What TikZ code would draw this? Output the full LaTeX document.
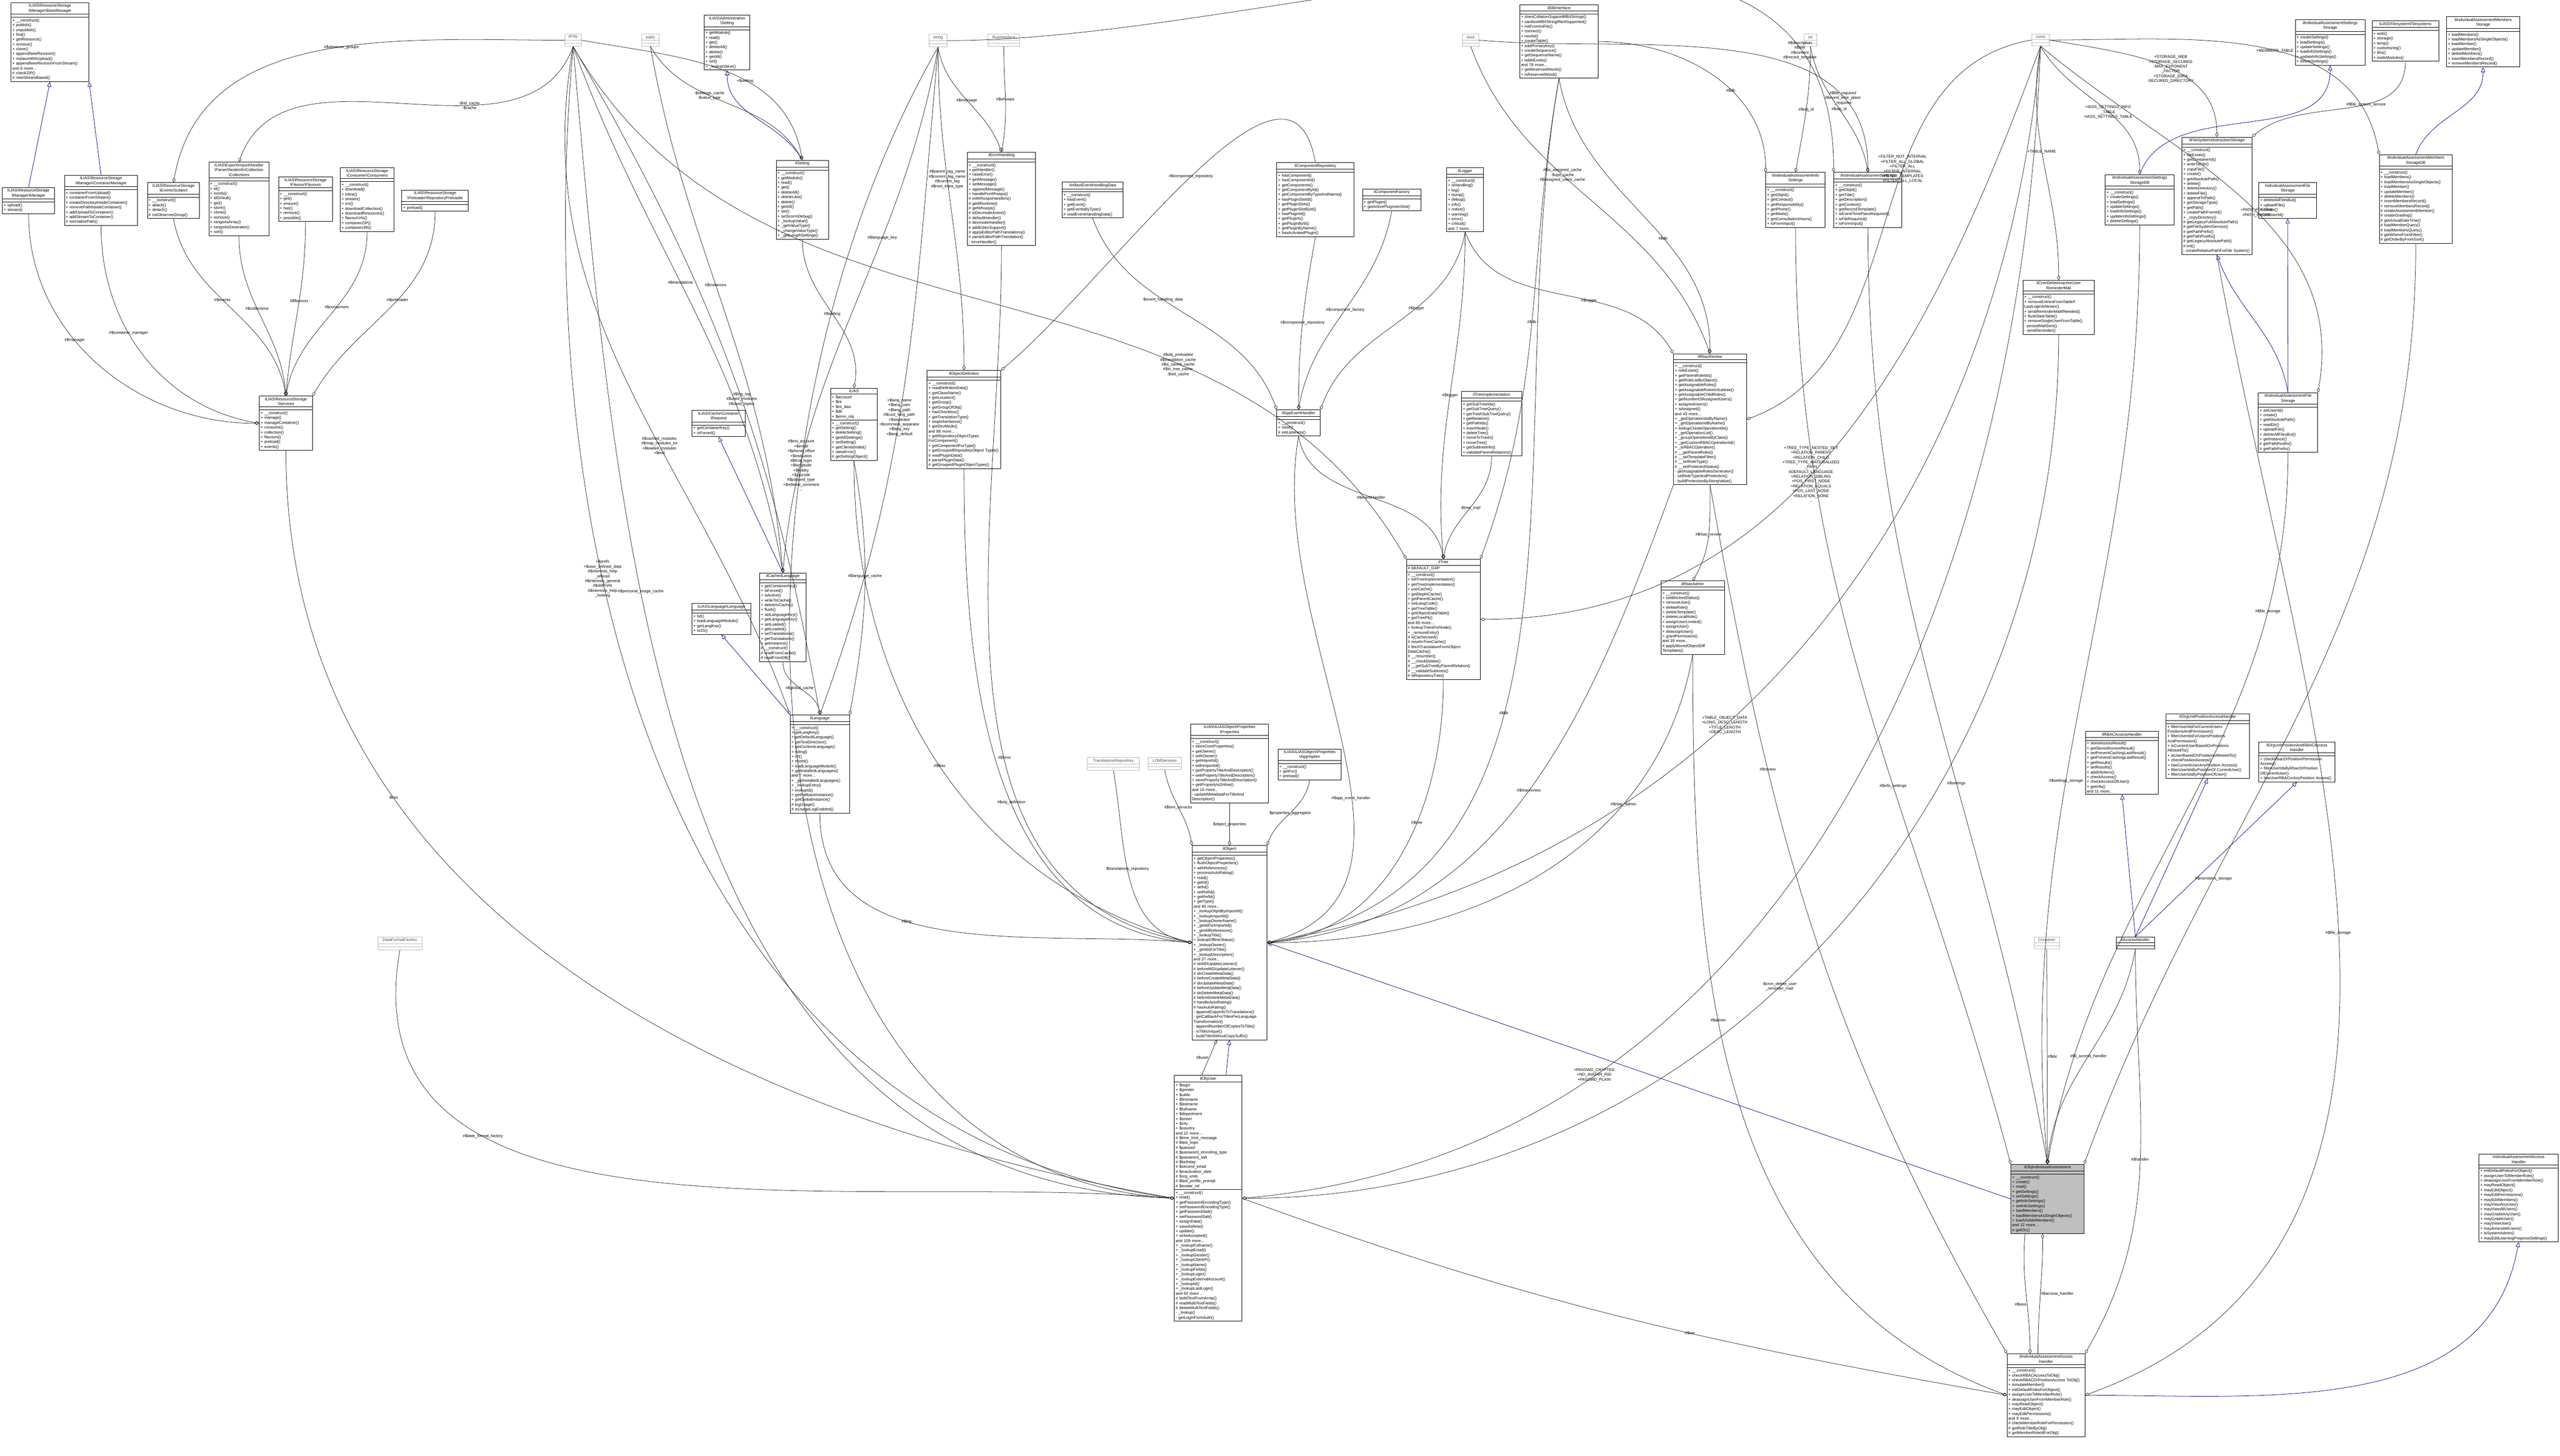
\documentclass[tikz,border=0pt]{standalone}
\usepackage{fontspec}
\setmainfont{Liberation Sans}
\usetikzlibrary{shapes.multipart,arrows.meta}
\newcommand{\bs}{\textbackslash{}}
\newcommand{\cls}[7][]{\node[cls,text width=#4pt,#1] (#2) at (#3) {\centering #5\par\nodepart{two}\raggedright #6\par\nodepart{three}\raggedright #7\par};}
\newcommand{\tnode}[4]{\node[cls,draw=gray!55,text width=#3pt] (#1) at (#2) {\centering\color{gray!60!black}#4\par\nodepart{two}\mbox{}\par\nodepart{three}\mbox{}\par};}
\tikzset{
 cls/.style={draw=black,line width=0.3pt,rectangle split,rectangle split parts=3,anchor=north west,
   inner xsep=0.8pt,inner ysep=0.8pt,align=left,font=\fontsize{2.5}{3.0}\selectfont,fill=white},
 agg/.style={draw=black!85,line width=0.25pt,-{Diamond[open,length=3pt,width=2pt,line width=0.25pt]}},
 inh/.style={draw=blue!55!black,line width=0.25pt,-{Triangle[open,length=3pt,width=2.6pt,line width=0.25pt]}},
 lbl/.style={font=\fontsize{2.5}{3.0}\selectfont,align=center,inner sep=0.3pt}
}
\begin{document}
\begin{tikzpicture}[x=1pt,y=-1pt]
\useasboundingbox[fill=white] (0,0) rectangle (1600,909.8);
% ---------- classes ----------
\cls{bm}{6.8,1.5}{47}{ILIAS\bs ResourceStorage\\\bs Manager\bs BaseManager}{\mbox{}}{+ \_\_construct()\\+ publish()\\+ unpublish()\\+ find()\\+ getResource()\\+ remove()\\+ clone()\\+ appendNewRevision()\\+ replaceWithUpload()\\+ appendNewRevisionFromStream()\\and 6 more...\\\# checkZIP()\\\# newStreamBased()}
\cls{mgr}{1.4,117}{31}{ILIAS\bs ResourceStorage\\\bs Manager\bs Manager}{\mbox{}}{+ upload()\\+ stream()}
\cls{cm}{40.2,109.4}{44}{ILIAS\bs ResourceStorage\\\bs Manager\bs ContainerManager}{\mbox{}}{+ containerFromUpload()\\+ containerFromStream()\\+ createDirectoryInsideContainer()\\+ removePathInsideContainer()\\+ addUploadToContainer()\\+ addStreamToContainer()\\\# normalizePath()}
\cls{subj}{92,114}{31}{ILIAS\bs ResourceStorage\\\bs Events\bs Subject}{\mbox{}}{+ \_\_construct()\\+ attach()\\+ detach()\\\# initObserverGroup()}
\cls{coll}{130.4,101.2}{36}{ILIAS\bs Export\bs ImportHandler\\\bs Parser\bs NodeInfo\bs Collection\\\bs Collections}{\mbox{}}{+ \_\_construct()\\+ id()\\+ exists()\\+ idOrNull()\\+ get()\\+ store()\\+ clone()\\+ remove()\\+ rangeAsArray()\\+ rangeAsGenerator()\\+ sort()}
\cls{flav}{174,110.5}{32}{ILIAS\bs ResourceStorage\\\bs Flavour\bs Flavours}{\mbox{}}{+ \_\_construct()\\+ get()\\+ ensure()\\+ has()\\+ remove()\\+ possible()}
\cls{cons}{212.5,104.7}{32}{ILIAS\bs ResourceStorage\\\bs Consumer\bs Consumers}{\mbox{}}{+ \_\_construct()\\+ download()\\+ inline()\\+ stream()\\+ src()\\+ downloadCollection()\\+ downloadResources()\\+ flavourUrls()\\+ containerZIP()\\+ containerURI()}
\cls{prel}{251,118.6}{40}{ILIAS\bs ResourceStorage\\\bs Preloader\bs RepositoryPreloader}{\mbox{}}{+ preload()}
\cls{serv}{162,247.5}{31.5}{ILIAS\bs ResourceStorage\\\bs Services}{\mbox{}}{+ \_\_construct()\\+ manage()\\+ manageContainer()\\+ consume()\\+ collection()\\+ flavours()\\+ preload()\\+ events()}
\tnode{tarray}{353,21.2}{8.5}{array}
\tnode{tstatic}{400.8,21.2}{9.5}{static}
\cls{adset}{440,9.3}{27}{ILIAS\bs Administration\\\bs Setting}{\mbox{}}{+ getModule()\\+ read()\\+ get()\\+ deleteAll()\\+ delete()\\+ getAll()\\+ set()\\+ \_lookupValue()}
\cls{ilset}{485,100}{31}{ilSetting}{\mbox{}}{+ \_\_construct()\\+ getModule()\\+ read()\\+ get()\\+ deleteAll()\\+ deleteLike()\\+ delete()\\+ getAll()\\+ set()\\+ setScormDebug()\\+ \_lookupValue()\\+ \_getValueType()\\+ \_changeValueType()\\+ \_getLengthSettings()}
\cls{ilias}{519,242.5}{27.5}{ILIAS}{+ \$account\\+ \$ini\\+ \$ini\_ilias\\+ \$db\\+ \$error\_obj}{+ \_\_construct()\\+ getSetting()\\+ deleteSetting()\\+ getAllSettings()\\+ setSetting()\\+ getClientIdValid()\\+ raiseError()\\\# getSettingObject()}
\cls{req}{432.4,256.4}{31.5}{ILIAS\bs Cache\bs Container\\\bs Request}{\mbox{}}{+ getContainerKey()\\+ isForced()}
\cls{cachl}{474.6,358}{27.5}{ilCachedLanguage}{\mbox{}}{+ getContainerKey()\\+ isForced()\\+ isActive()\\+ writeToCache()\\+ deleteInCache()\\+ flush()\\+ setLanguageKey()\\+ getLanguageKey()\\+ setLoaded()\\+ getLoaded()\\+ setTranslations()\\+ getTranslations()\\+ getInstance()\\\# \_\_construct()\\\# readFromCache()\\\# readFromDB()}
\cls{langif}{432.4,377}{35}{ILIAS\bs Language\bs Language}{\mbox{}}{+ txt()\\+ loadLanguageModule()\\+ getLangKey()\\+ toJS()}
\cls{lng}{493.7,446.7}{35.5}{ilLanguage}{\mbox{}}{+ \_\_construct()\\+ getLangKey()\\+ getDefaultLanguage()\\+ getTextDirection()\\+ getContentLanguage()\\+ txtlng()\\+ txt()\\+ exists()\\+ loadLanguageModule()\\+ getInstalledLanguages()\\and 7 more...\\+ \_getInstalledLanguages()\\+ \_lookupEntry()\\+ lookupId()\\+ getFallbackInstance()\\+ getGlobalInstance()\\\# logUsage()\\\# isUsageLogEnabled()}
\tnode{tdff}{236,585.5}{26}{DataFormatFactory}
\tnode{tstring}{580.6,21.2}{9.5}{string}
\tnode{trun}{617.4,21.2}{18}{RunInterface}
\tnode{tbool}{914,21.2}{8.5}{bool}
\cls{db}{949.7,2.9}{47.5}{ilDBInterface}{\mbox{}}{+ doesCollationSupportMB4Strings()\\+ sanitizeMB4StringIfNotSupported()\\+ initFromIniFile()\\+ connect()\\+ nextId()\\+ createTable()\\+ addPrimaryKey()\\+ createSequence()\\+ getSequenceName()\\+ tableExists()\\and 78 more...\\+ getReservedWords()\\+ isReservedWord()}
\cls{err}{604.5,95}{41}{ilErrorHandling}{\mbox{}}{+ \_\_construct()\\+ getHandler()\\+ raiseError()\\+ getMessage()\\+ setMessage()\\+ appendMessage()\\+ handlePreWhoops()\\\# initWhoopsHandlers()\\\# getIlRuntime()\\\# getWhoops()\\\# isDevmodeActive()\\\# defaultHandler()\\\# devmodeHandler()\\\# addEditorSupport()\\\# applyEditorPathTranslations()\\\# parseEditorPathTranslation()\\- errorHandler()}
\cls{aehd}{663.7,113.7}{36.5}{ArtifactEventHandlingData}{\mbox{}}{+ \_\_construct()\\+ hasEvent()\\+ getEvent()\\+ getEventsByType()\\\# readEventHandlingData()}
\cls{comprep}{797.9,101.5}{46.5}{ilComponentRepository}{\mbox{}}{+ hasComponent()\\+ hasComponentId()\\+ getComponents()\\+ getComponentById()\\+ getComponentByTypeAndName()\\+ hasPluginSlotId()\\+ getPluginSlots()\\+ getPluginSlotById()\\+ hasPluginId()\\+ getPlugins()\\+ getPluginById()\\+ getPluginByName()\\+ hasActivatedPlugin()}
\cls{compf}{851.4,118}{35}{ilComponentFactory}{\mbox{}}{+ getPlugin()\\+ getActivePluginsInSlot()}
\cls{logger}{904,104.7}{21.5}{ilLogger}{\mbox{}}{+ \_\_construct()\\+ isHandling()\\+ log()\\+ dump()\\+ debug()\\+ info()\\+ notice()\\+ warning()\\+ error()\\+ critical()\\and 7 more...}
\cls{objdef}{579.3,231.4}{44.5}{ilObjectDefinition}{\mbox{}}{+ \_\_construct()\\+ readDefinitionData()\\+ getClassName()\\+ getLocation()\\+ getGroup()\\+ getGroupOfObj()\\+ hasCheckbox()\\+ getTranslationType()\\+ stopInheritance()\\+ getDevMode()\\and 88 more...\\+ getRepositoryObjectTypes ForComponent()\\+ getComponentForType()\\+ getGroupedRepositoryObject Types()\\\# readPluginData()\\\# parsePluginData()\\\# getGroupedPluginObjectTypes()}
\cls{aeh}{797.9,256}{25.5}{ilAppEventHandler}{\mbox{}}{+ \_\_construct()\\+ raise()\\\# initListeners()}
\cls{timpl}{913.3,244.5}{36}{ilTreeImplementation}{\mbox{}}{+ getSubTreeIds()\\+ getSubTreeQuery()\\+ getTrashSubTreeQuery()\\+ getRelation()\\+ getPathIds()\\+ insertNode()\\+ deleteTree()\\+ moveToTrash()\\+ moveTree()\\+ getSubtreeInfo()\\+ validateParentRelations()}
\cls{tree}{878.9,349.4}{44.5}{ilTree}{\# DEFAULT\_GAP}{+ \_\_construct()\\+ initTreeImplementation()\\+ getTreeImplementation()\\+ useCache()\\+ getDepthCache()\\+ getParentCache()\\+ initLangCode()\\+ getTreeTable()\\+ getObjectDataTable()\\+ getTreePk()\\and 80 more...\\+ lookupTreesForNode()\\+ \_removeEntry()\\\# isCacheUsed()\\\# resetInTreeCache()\\\# fetchTranslationFromObject DataCache()\\\# \_\_renumber()\\\# \_\_checkDelete()\\\# \_\_getSubTreeByParentRelation()\\\# \_\_validateSubtrees()\\\# isRepositoryTree()}
\cls{rrev}{1045.8,221}{44}{ilRbacReview}{\mbox{}}{+ \_\_construct()\\+ roleExists()\\+ getParentRoleIds()\\+ getRoleListByObject()\\+ getAssignableRoles()\\+ getAssignableRolesInSubtree()\\+ getAssignableChildRoles()\\+ getNumberOfAssignedUsers()\\+ assignedUsers()\\+ isAssigned()\\and 43 more...\\+ \_getOperationIdsByName()\\+ \_getOperationIdByName()\\+ lookupCreateOperationIds()\\+ \_getOperationList()\\+ \_groupOperationsByClass()\\+ \_getCustomRBACOperationId()\\+ \_isRBACOperation()\\\# \_\_getParentRoles()\\\# \_\_setTemplateFilter()\\\# \_\_setRoleType()\\\# \_\_setProtectedStatus()\\- getAssignableRolesGenerator()\\- setRoleTypeAndProtection()\\- buildProtectionByStringValue()}
\cls{radm}{1038,363}{38}{ilRbacAdmin}{\mbox{}}{+ \_\_construct()\\+ setBlockedStatus()\\+ removeUser()\\+ deleteRole()\\+ deleteTemplate()\\+ deleteLocalRole()\\+ assignUserLimited()\\+ assignUser()\\+ deassignUser()\\+ grantPermission()\\and 18 more...\\\# applyMovedObjectDiff Templates()}
\cls{props}{744,452.4}{47}{ILIAS\bs ILIASObject\bs Properties\\\bs Properties}{\mbox{}}{+ \_\_construct()\\+ storeCoreProperties()\\+ getOwner()\\+ withOwner()\\+ getImportId()\\+ withImportId()\\+ getPropertyTitleAndDescription()\\+ withPropertyTitleAndDescription()\\+ storePropertyTitleAndDescription()\\+ getPropertyIsOnline()\\and 16 more...\\- updateMetadataForTitleAnd Description()}
\tnode{ttrans}{679.4,473.3}{31}{TranslationsRepository}
\tnode{tlom}{717.5,473.3}{19}{LOMServices}
\cls{aggr}{798.6,468}{38}{ILIAS\bs ILIASObject\bs Properties\\\bs Aggregator}{\mbox{}}{+ \_\_construct()\\+ getFor()\\+ preload()}
\cls{obj}{745,528.4}{45}{ilObject}{\mbox{}}{+ getObjectProperties()\\+ flushObjectProperties()\\+ withReferences()\\+ processAutoRating()\\+ read()\\+ getId()\\+ setId()\\+ setRefId()\\+ getRefId()\\+ getType()\\and 40 more...\\+ \_lookupObjIdByImportId()\\+ \_lookupImportId()\\+ \_lookupOwnerName()\\+ \_getIdForImportId()\\+ \_getAllReferences()\\+ \_lookupTitle()\\+ lookupOfflineStatus()\\+ \_lookupOwner()\\+ \_getIdsForTitle()\\+ \_lookupDescription()\\and 27 more...\\\# doMDUpdateListener()\\\# beforeMDUpdateListener()\\\# doCreateMetaData()\\\# beforeCreateMetaData()\\\# doUpdateMetaData()\\\# beforeUpdateMetaData()\\\# doDeleteMetaData()\\\# beforeDeleteMetaData()\\\# handleAutoRating()\\\# hasAutoRating()\\- appendCopyInfoToTranslations()\\- getCallbackForTitlesPerLanguage Transformation()\\- appendNumberOfCopiesToTitle()\\- isTitleUnique()\\- buildTitleWithoutCopySuffix()}
\cls{usr}{733.9,672}{40.5}{ilObjUser}{+ \$login\\+ \$gender\\+ \$utitle\\+ \$firstname\\+ \$lastname\\+ \$fullname\\+ \$department\\+ \$street\\+ \$city\\+ \$country\\and 12 more...\\\# \$time\_limit\_message\\\# \$last\_login\\\# \$passwd\\\# \$password\_encoding\_type\\\# \$password\_salt\\\# \$birthday\\\# \$second\_email\\\# \$inactivation\_date\\\# \$org\_units\\\# \$last\_profile\_prompt\\\# \$avatar\_rid}{+ \_\_construct()\\+ read()\\+ getPasswordEncodingType()\\+ setPasswordEncodingType()\\+ getPasswordSalt()\\+ setPasswordSalt()\\+ assignData()\\+ saveAsNew()\\+ update()\\+ writeAccepted()\\and 109 more...\\+ \_lookupFullname()\\+ \_lookupEmail()\\+ \_lookupGender()\\+ \_lookupClientIP()\\+ \_lookupName()\\+ \_lookupFields()\\+ \_lookupLogin()\\+ \_lookupExternalAccount()\\+ \_lookupId()\\+ \_lookupLastLogin()\\and 62 more...\\\# buildTextFromArray()\\\# readMultiTextFields()\\\# deleteMultiTextFields()\\- \_lookup()\\- getLoginFromAuth()}
\tnode{tint}{1127.3,21.2}{6.5}{int}
\tnode{tconst}{1269.6,21.2}{9.5}{const}
\cls{ssto}{1434.4,12.2}{42}{ilIndividualAssessmentSettings\\Storage}{\mbox{}}{+ createSettings()\\+ loadSettings()\\+ updateSettings()\\+ loadInfoSettings()\\+ updateInfoSettings()\\+ deleteSettings()}
\cls{fss}{1482.4,12.8}{40}{ILIAS\bs Filesystem\bs Filesystems}{\mbox{}}{+ web()\\+ storage()\\+ temp()\\+ customizing()\\+ libs()\\+ nodeModules()}
\cls{msto}{1529,10.4}{44}{ilIndividualAssessmentMembers\\Storage}{\mbox{}}{+ loadMembers()\\+ loadMembersAsSingleObjects()\\+ loadMember()\\+ updateMember()\\+ deleteMembers()\\+ insertMembersRecord()\\+ removeMembersRecord()}
\cls{info}{1103.5,107.6}{35.5}{ilIndividualAssessmentInfo\\Settings}{\mbox{}}{+ \_\_construct()\\+ getObjId()\\+ getContact()\\+ getResponsibility()\\+ getPhone()\\+ getMails()\\+ getConsultationHours()\\+ toFormInput()}
\cls{sett}{1146,107.6}{41}{ilIndividualAssessmentSettings}{\mbox{}}{+ \_\_construct()\\+ getObjId()\\+ getTitle()\\+ getDescription()\\+ getContent()\\+ getRecordTemplate()\\+ isEventTimePlaceRequired()\\+ isFileRequired()\\+ toFormInput()}
\cls{ssdb}{1315.6,109}{41.5}{ilIndividualAssessmentSettings\\StorageDB}{\mbox{}}{+ \_\_construct()\\+ createSettings()\\+ loadSettings()\\+ updateSettings()\\+ loadInfoSettings()\\+ updateInfoSettings()\\+ deleteSettings()}
\cls{fsas}{1363.6,85.6}{42}{ilFileSystemAbstractionStorage}{\mbox{}}{+ \_\_construct()\\+ fileExists()\\+ getContainerId()\\+ writeToFile()\\+ copyFile()\\+ create()\\+ getAbsolutePath()\\+ delete()\\+ deleteDirectory()\\+ deleteFile()\\+ appendToPath()\\+ getStorageType()\\+ getPath()\\+ createPathFromId()\\+ \_copyDirectory()\\\# getLegacyFullAbsolutePath()\\\# getFileSystemService()\\\# getPathPrefix()\\\# getPathPostfix()\\\# getLegacyAbsolutePath()\\\# init()\\- createRelativePathForFile System()}
\cls{fsti}{1411.6,114}{34.5}{IndividualAssessmentFile\\Storage}{\mbox{}}{+ deleteAllFilesBut()\\+ uploadFile()\\+ create()\\+ setUserId()}
\cls{msdb}{1486.9,96.6}{44}{ilIndividualAssessmentMembers\\StorageDB}{\mbox{}}{+ \_\_construct()\\+ loadMembers()\\+ loadMembersAsSingleObjects()\\+ loadMember()\\+ updateMember()\\+ deleteMembers()\\+ insertMembersRecord()\\+ removeMembersRecord()\\\# createAssessmentMember()\\\# createGrading()\\\# getActualDateTime()\\\# loadMemberQuery()\\\# loadMembersQuery()\\\# getWhereFromFilter()\\\# getOrderByFromSort()}
\cls{cron}{1264.2,175}{43}{ilCronDeleteInactiveUser\\ReminderMail}{\mbox{}}{+ \_\_construct()\\+ removeEntriesFromTableIf LastLoginIsNewer()\\+ sendReminderMailIfNeeded()\\+ flushDataTable()\\+ removeSingleUserFromTable()\\- persistMailSent()\\- sendReminder()}
\cls{fsc}{1411.3,245.3}{35.5}{ilIndividualAssessmentFile\\Storage}{\mbox{}}{+ setUserId()\\+ create()\\+ getAbsolutePath()\\+ readDir()\\+ uploadFile()\\+ deleteAllFilesBut()\\+ getInstance()\\\# getPathPostfix()\\\# getPathPrefix()}
\cls{rbach}{1303.3,457}{44}{ilRBACAccessHandler}{\mbox{}}{+ storeAccessResult()\\+ getStoredAccessResult()\\+ setPreventCachingLastResult()\\+ getPreventCachingLastResult()\\+ getResults()\\+ setResults()\\+ addInfoItem()\\+ checkAccess()\\+ checkAccessOfUser()\\+ getInfo()\\and 11 more...}
\cls{ouph}{1353.7,446}{50.5}{ilOrgUnitPositionAccessHandler}{\mbox{}}{+ filterUserIdsForCurrentUsers PositionsAndPermission()\\+ filterUserIdsForUsersPositions AndPermission()\\+ isCurrentUserBasedOnPositions AllowedTo()\\+ isUserBasedOnPositionsAllowedTo()\\+ checkPositionAccess()\\+ hasCurrentUserAnyPosition Access()\\+ filterUserIdsByPositionOf CurrentUser()\\+ filterUserIdsByPositionOfUser()}
\cls{ourb}{1411.6,463.7}{46}{ilOrgUnitPositionAndRBACAccess\\Handler}{\mbox{}}{+ checkRbacOrPositionPermission Access()\\+ filterUserIdsByRbacOrPosition OfCurrentUser()\\+ hasUserRBACorAnyPosition Access()}
\tnode{tcont}{1271.3,585.5}{14}{Container}
\cls{acch}{1322.4,585.5}{22.5}{ilAccessHandler}{\mbox{}}{\mbox{}}
\cls[fill=gray!50]{iass}{1256.7,727.6}{44}{ilObjIndividualAssessment}{\mbox{}}{+ \_\_construct()\\+ create()\\+ read()\\+ getSettings()\\+ setSettings()\\+ getInfoSettings()\\+ setInfoSettings()\\+ loadMembers()\\+ loadMembersAsSingleObjects()\\+ loadVisibleMembers()\\and 12 more...\\\# getDic()}
\cls{iahi}{1549.2,721.2}{48}{IndividualAssessmentAccess\\Handler}{\mbox{}}{+ initDefaultRolesForObject()\\+ assignUserToMemberRole()\\+ deassignUserFromMemberRole()\\+ mayReadObject()\\+ mayEditObject()\\+ mayEditPermissions()\\+ mayEditMembers()\\+ mayViewAnyUser()\\+ mayViewAllUsers()\\+ mayGradeAnyUser()\\+ mayGradeUser()\\+ mayViewUser()\\+ mayAmendAllUsers()\\+ isSystemAdmin()\\+ mayEditLearningProgressSettings()}
\cls{iahc}{1254.3,846}{47}{ilIndividualAssessmentAccess\\Handler}{\mbox{}}{+ \_\_construct()\\+ checkRBACAccessToObj()\\+ checkRBACOrPositionAccess ToObj()\\+ simulateMember()\\+ initDefaultRolesForObject()\\+ assignUserToMemberRole()\\+ deassignUserFromMemberRole()\\+ mayReadObject()\\+ mayEditObject()\\+ mayEditPermissions()\\and 9 more...\\\# checkMemberRoleForPermission()\\\# getRoleTitleByObj()\\\# getMemberRoleIdForObj()}
% ---------- inheritance ----------
\draw[inh] (mgr.north) -- (bm.south);
\draw[inh] (cm.north) -- (bm.south east);
\draw[inh] (ilset.north) to[out=120,in=-90] (adset.south);
\draw[inh] (cachl.north) -- (req.south);
\draw[inh] (lng.north west) -- (langif.south);
\draw[inh] (usr.north east) ++(-10,0) coordinate (u1) -- (obj.south);
\draw[inh] (iass.west) -- (obj.east);
\draw[inh] (ssdb.north) to[out=70,in=-90] (ssto.south);
\draw[inh] (msdb.north) to[out=70,in=-90] (msto.south);
\draw[inh] (fsc.north) to[out=100,in=-70] (fsas.south);
\draw[inh] (fsc.north) -- (fsti.south);
\draw[inh] (acch.north) -- (rbach.south);
\draw[inh] (acch.north) -- (ouph.south);
\draw[inh] (acch.north) -- (ourb.south);
\draw[inh] (iahc.east) to[out=0,in=-100] (iahi.south);
% ---------- aggregation ----------
\draw[agg] (mgr.south) to[out=-90,in=180] node[lbl,pos=0.4]{\#\$manager} (serv.west);
\draw[agg] (cm.south) to[out=-90,in=170] node[lbl,pos=0.4]{\#\$container\_manager} (serv.west);
\draw[agg] (subj.south) to[out=-80,in=100] node[lbl,pos=0.45]{\#\$events} (serv.north);
\draw[agg] (coll.south) to[out=-90,in=95] node[lbl,pos=0.45]{\#\$collections} (serv.north);
\draw[agg] (flav.south) to[out=-90,in=85] node[lbl,pos=0.45]{\#\$flavours} (serv.north);
\draw[agg] (cons.south) to[out=-90,in=80] node[lbl,pos=0.45]{\#\$consumers} (serv.north);
\draw[agg] (prel.south) to[out=-90,in=60] node[lbl,pos=0.45]{\#\$preloader} (serv.north east);
\draw[agg] (tarray.west) to[out=180,in=80] node[lbl,pos=0.45]{\#\$observer\_groups} (subj.north);
\draw[agg] (tarray.south) to[out=-110,in=70] node[lbl,pos=0.35]{-\$rid\_cache\\-\$cache} (coll.north);
\draw[agg] (serv.south) to[out=-90,in=170] node[lbl,pos=0.3]{-\$irss} (usr.west);
\draw[agg] (tdff.south) to[out=-100,in=175] node[lbl,pos=0.3]{\#\$date\_format\_factory} (usr.west);
\draw[agg] (tarray.south) to[out=-95,in=172] node[lbl,pos=0.35]{+\$prefs\\+\$user\_defined\_data\\\#\$interests\_help\\\_offered\\\#\$interests\_general\\\#\$oldPrefs\\\#\$interests\_help\\\_looking} (usr.west);
\draw[agg] (tarray.south) to[out=-85,in=178] node[lbl,pos=0.35]{\#\$personal\_image\_cache} (usr.west);
\draw[agg] (tstring.south) to[out=-120,in=176] node[lbl,pos=0.3]{\#\$ext\_account\\+\$email\\+\$phone\_office\\+\$institution\\\#\$first\_login\\+\$longitude\\+\$hobby\\+\$zipcode\\\#\$passwd\_type\\+\$referral\_comment\\...} (usr.west);
\draw[agg] (tstatic.south) to[out=-60,in=120] node[lbl,pos=0.4]{-\$settings\_cache\\-\$value\_type} (ilset.north);
\draw[agg] (tarray.east) to[out=-10,in=100] node[lbl,pos=0.6]{+\$setting} (ilset.north);
\draw[agg] (tstring.south) to[out=-80,in=110] node[lbl,pos=0.5]{\#\$message} (err.north);
\draw[agg] (trun.south) to[out=-90,in=80] node[lbl,pos=0.5]{\#\$whoops} (err.north);
\draw[agg] (ilset.south) to[out=-90,in=80] node[lbl,pos=0.5]{\#\$setting} (ilias.north);
\draw[agg] (tarray.south) to[out=-70,in=100] node[lbl,pos=0.45]{\#\$translations} (cachl.north);
\draw[agg] (tstatic.south) to[out=-80,in=95] node[lbl,pos=0.45]{\#\$instances} (cachl.north);
\draw[agg] (tstring.south) to[out=-100,in=85] node[lbl,pos=0.35]{\#\$language\_key} (cachl.north);
\draw[agg] (cachl.south) to[out=-90,in=100] node[lbl,pos=0.5]{\#\$global\_cache} (lng.north);
\draw[agg] (ilias.south) to[out=-80,in=80] node[lbl,pos=0.45]{\#\$language\_cache} (lng.north east);
\draw[agg] (tstring.south) to[out=-95,in=70] node[lbl,pos=0.55]{+\$lang\_name\\+\$lang\_user\\+\$lang\_path\\\#\$cust\_lang\_path\\+\$separator\\+\$comment\_separator\\+\$lang\_key\\+\$lang\_default} (lng.north);
\draw[agg] (tarray.south) to[out=-100,in=110] node[lbl,pos=0.6]{\#\$cached\_modules\\\#\$map\_modules\_txt\\+\$loaded\_modules\\+\$text} (lng.north west);
\draw[agg] (tarray.south) to[out=-60,in=100] node[lbl,pos=0.55]{\#\$lng\_log\\\#\$used\_modules\\\#\$used\_topics} (lng.north);
\draw[agg] (err.south) to[out=-90,in=170] node[lbl,pos=0.6]{\#\$error} (obj.west);
\draw[agg] (ilias.south) to[out=-90,in=165] node[lbl,pos=0.5]{\#\$ilias} (obj.west);
\draw[agg] (lng.south) to[out=-90,in=175] node[lbl,pos=0.4]{\#\$lng} (obj.west);
\draw[agg] (objdef.south) to[out=-90,in=175] node[lbl,pos=0.55]{\#\$obj\_definition} (obj.west);
\draw[agg] (aeh.south) to[out=-100,in=15] node[lbl,pos=0.6]{\#\$app\_event\_handler} (obj.east);
\draw[agg] (db.south) to[out=-100,in=10] node[lbl,pos=0.6]{\#\$db} (obj.east);
\draw[agg] (comprep.south) to[out=-100,in=90] node[lbl,pos=0.5]{\#\$component\_repository} (aeh.north);
\draw[agg] (compf.south) to[out=-100,in=80] node[lbl,pos=0.5]{\#\$component\_factory} (aeh.north);
\draw[agg] (logger.south) to[out=-100,in=70] node[lbl,pos=0.4]{\#\$logger} (aeh.north east);
\draw[agg] (aehd.south) to[out=-70,in=110] node[lbl,pos=0.4]{-\$event\_handling\_data} (aeh.north west);
\draw[agg] (comprep.north) to[out=100,in=40] node[lbl,pos=0.5]{\#\$component\_repository} (objdef.north east);
\draw[agg] (tstring.south) to[out=-90,in=90] node[lbl,pos=0.4]{\#\$parent\_tag\_name\\\#\$current\_tag\_name\\\#\$current\_tag\\\#\$root\_trans\_type} (objdef.north);
\draw[agg] (tarray.south) to[out=-60,in=120] node[lbl,pos=0.7]{\#\$obj\_preloaded\\\#\$translation\_cache\\\#\$is\_saved\_cache\\\#\$in\_tree\_cache\\-\$oid\_cache} (tree.north west);
\draw[agg] (logger.south) to[out=-90,in=95] node[lbl,pos=0.5]{\#\$logger} (tree.north);
\draw[agg] (aeh.south) to[out=-80,in=100] node[lbl,pos=0.5]{\#\$eventHandler} (tree.north);
\draw[agg] (timpl.south) to[out=-90,in=80] node[lbl,pos=0.5]{-\$tree\_impl} (tree.north);
\draw[agg] (db.south) to[out=-100,in=70] node[lbl,pos=0.5]{\#\$db} (tree.north east);
\draw[agg] (tree.south) to[out=-90,in=5] node[lbl,pos=0.4]{\#\$tree} (obj.east);
\draw[agg] (rrev.south) to[out=-90,in=60] node[lbl,pos=0.5]{\#\$rbac\_review} (radm.north);
\draw[agg] (radm.south) to[out=-100,in=0] node[lbl,pos=0.3]{\#\$rbac\_admin} (obj.east);
\draw[agg] (rrev.south west) to[out=-110,in=5] node[lbl,pos=0.5]{\#\$rbacreview} (obj.east);
\draw[agg] (db.south) to[out=-80,in=90] node[lbl,pos=0.6]{\#\$db} (rrev.north);
\draw[agg] (logger.south) to[out=-70,in=120] node[lbl,pos=0.6]{\#\$logger} (rrev.north west);
\draw[agg] (ttrans.south) to[out=-80,in=170] node[lbl,pos=0.45]{\$translations\_repository} (obj.west);
\draw[agg] (tlom.south) to[out=-80,in=100] node[lbl,pos=0.5]{\#\$lom\_services} (obj.north west);
\draw[agg] (props.south) -- node[lbl,pos=0.5]{\$object\_properties} (obj.north);
\draw[agg] (aggr.south) to[out=-100,in=70] node[lbl,pos=0.5]{\$properties\_aggregator} (obj.north east);
\draw[agg] (usr.north) ++(-4,0) coordinate (u2) -- node[lbl,pos=0.5,left]{\#\$user} ([xshift=-8pt]obj.south);
\draw[agg] (sett.south) to[out=-90,in=100] node[lbl,pos=0.6]{\#\$settings} (iass.north);
\draw[agg] (info.south) to[out=-90,in=105] node[lbl,pos=0.6]{\#\$info\_settings} (iass.north west);
\draw[agg] (ssdb.south) to[out=-90,in=95] node[lbl,pos=0.6]{\#\$settings\_storage} (iass.north);
\draw[agg] (msdb.south) to[out=-90,in=70] node[lbl,pos=0.7]{\#\$members\_storage} (iass.north east);
\draw[agg] (fsc.south) to[out=-90,in=80] node[lbl,pos=0.2]{\#\$file\_storage} (iass.north);
\draw[agg] (tcont.south) -- node[lbl,pos=0.5,right]{\#\$dic} (iass.north);
\draw[agg] (acch.south) to[out=-100,in=85] node[lbl,pos=0.5]{\#\$il\_access\_handler} (iass.north);
\draw[agg] (cron.south) to[out=-90,in=0] node[lbl,pos=0.55]{-\$cron\_delete\_user\\\_reminder\_mail} (usr.east);
\draw[agg] (tint.south) to[out=-90,in=80] node[lbl,pos=0.5]{\#\$obj\_id} (info.north);
\draw[agg] (tint.south) to[out=-80,in=100] node[lbl,pos=0.5]{\#\$obj\_id} (sett.north);
\draw[agg] (db.east) to[out=0,in=90] node[lbl,pos=0.6]{\#\$db} (info.north west);
\draw[agg] (tstring.east) to[out=0,in=90] node[lbl,pos=0.85]{\#\$description\\\#\$title\\\#\$content\\\#\$record\_template} (sett.north west);
\draw[agg] (tbool.east) to[out=-5,in=90] node[lbl,pos=0.8]{\#\$file\_required\\\#\$event\_time\_place\\\_required} (sett.north);
\draw[agg] (tbool.south) to[out=-70,in=110] node[lbl,pos=0.4]{\#\$is\_assigned\_cache\\-\$ops\_cache\\\#\$assigned\_users\_cache} (rrev.north);
\draw[agg] (fss.south) to[out=-90,in=40] node[lbl,pos=0.4]{\#\$file\_system\_service} (fsas.north east);
\draw[agg] (tconst.east) to[out=-10,in=90] node[lbl,pos=0.55]{+STORAGE\_WEB\\+STORAGE\_SECURED\\-MAX\_EXPONENT\\\_FACTOR\\+STORAGE\_DATA\\-SECURED\_DIRECTORY} (fsas.north);
\draw[agg] (tconst.south) to[out=-60,in=90] node[lbl,pos=0.55]{+IASS\_SETTINGS\_INFO\\\_TABLE\\+IASS\_SETTINGS\_TABLE} (ssdb.north);
\draw[agg] (tconst.east) to[out=0,in=100] node[lbl,pos=0.55]{+MEMBERS\_TABLE} (msdb.north west);
\draw[agg] (tconst.south) to[out=-40,in=80] node[lbl,pos=0.55]{+PATH\_POSTFIX\\+PATH\_PREFIX} (fsc.north east);
\draw[agg] (tconst.south) to[out=-100,in=90] node[lbl,pos=0.45]{+TABLE\_NAME} (cron.north);
\draw[agg] (tconst.south) to[out=-110,in=0] node[lbl,pos=0.55]{+TREE\_TYPE\_NESTED\_SET\\+RELATION\_PARENT\\+RELATION\_CHILD\\+TREE\_TYPE\_MATERIALIZED\\\_PATH\\\#DEFAULT\_LANGUAGE\\+RELATION\_SIBLING\\+POS\_FIRST\_NODE\\+RELATION\_EQUALS\\+POS\_LAST\_NODE\\+RELATION\_NONE\\...} (tree.east);
\draw[agg] (tconst.south) to[out=-95,in=10] node[lbl,pos=0.6]{+TABLE\_OBJECT\_DATA\\+LONG\_DESC\_LENGTH\\+TITLE\_LENGTH\\+DESC\_LENGTH} (obj.east);
\draw[agg] (tconst.south) to[out=-92,in=5] node[lbl,pos=0.75]{+PASSWD\_CRYPTED\\+NO\_AVATAR\_RID\\+PASSWD\_PLAIN} (usr.east);
\draw[agg] (tconst.west) to[out=190,in=20] node[lbl,pos=0.4]{+FILTER\_NOT\_INTERNAL\\+FILTER\_ALL\_GLOBAL\\+FILTER\_ALL\\+FILTER\_INTERNAL\\+FILTER\_TEMPLATES\\+FILTER\_ALL\_LOCAL} (rrev.east);
\draw[agg] (iahc.north) ++(-5,0) coordinate (h1) to[out=90,in=-90] node[lbl,pos=0.5,right]{\#\$access\_handler} ([xshift=-3pt]iass.south);
\draw[agg] ([xshift=-14pt]iass.south) to[out=-95,in=90] node[lbl,pos=0.6,left]{\#\$iass} ([xshift=-10pt]iahc.north);
\draw[agg] (acch.south) to[out=-90,in=60] node[lbl,pos=0.5]{\#\$handler} (iahc.north east);
\draw[agg] (usr.east) to[out=-20,in=170] node[lbl,pos=0.6]{\#\$usr} (iahc.west);
\draw[agg] (radm.south) to[out=-90,in=160] node[lbl,pos=0.4]{\#\$admin} (iahc.west);
\draw[agg] (rrev.south) to[out=-80,in=120] node[lbl,pos=0.3]{\#\$review} (iahc.north west);
\draw[agg] (fsas.south) to[out=-80,in=20] node[lbl,pos=0.5]{\#\$file\_storage} (iahc.east);
\end{tikzpicture}
\end{document}
